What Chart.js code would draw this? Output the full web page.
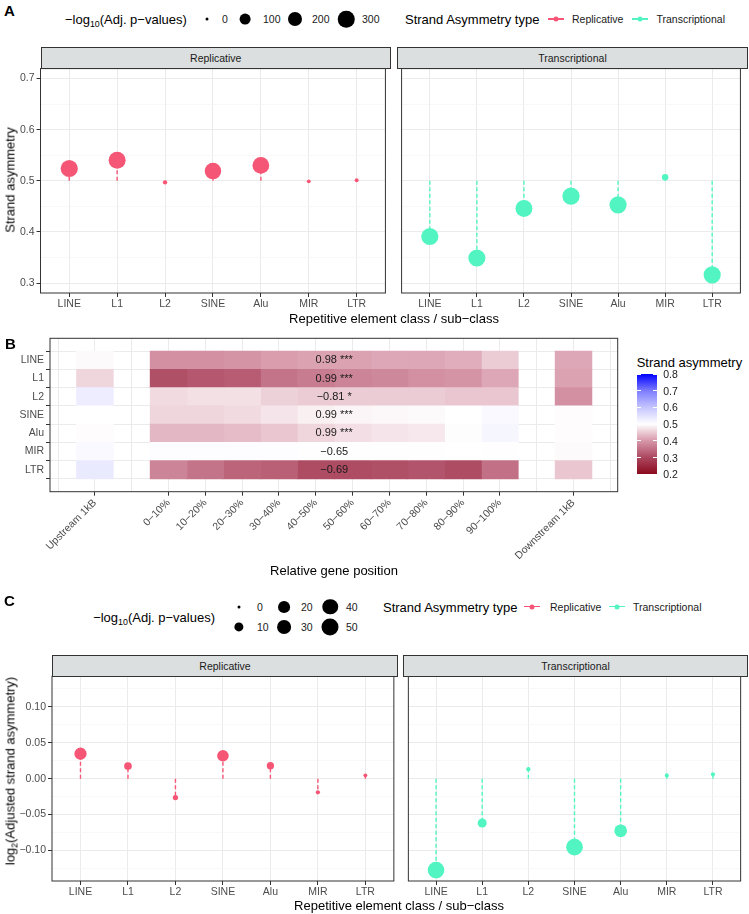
<!DOCTYPE html>
<html>
<head>
<meta charset="utf-8">
<script src="https://cdn.jsdelivr.net/npm/chart.js@4.4.1/dist/chart.umd.min.js"></script>
<style>
  body { margin: 0; background: #fff; }
  #page { position: relative; width: 749px; height: 914px; overflow: hidden;
          font-family: "Liberation Sans", Arial, sans-serif; color: #000; }
  #page canvas { position: absolute; }
  .txt { position: absolute; white-space: nowrap; line-height: 1; }
  .strip { position: absolute; box-sizing: border-box; background: #dcdfdf; border: 1px solid #333;
           font-size: 10.5px; color: #1a1a1a; display: flex; align-items: center; justify-content: center; }
  .dot { position: absolute; border-radius: 50%; transform: translate(-50%, -50%); }
  .sub { font-size: 0.68em; position: relative; top: 0.35em; }
</style>
</head>
<body>
<div id="page"></div>
<script>
// ---------- data ----------
const repeatClasses = ['LINE', 'L1', 'L2', 'SINE', 'Alu', 'MIR', 'LTR'];

// panel A: strand asymmetry and -log10(adj. p)
const asymReplicative = [0.524, 0.540, 0.497, 0.519, 0.530, 0.499, 0.501];
const asymTranscriptional = [0.391, 0.349, 0.446, 0.470, 0.453, 0.507, 0.316];
const logpReplicativeA = [330, 320, 3, 300, 310, 1, 1.5];
const logpTranscriptionalA = [330, 330, 320, 330, 330, 20, 330];

// panel C: log2 adjusted strand asymmetry and -log10(adj. p)
const log2Replicative = [0.0347, 0.0175, -0.0264, 0.0319, 0.0180, -0.0190, 0.0046];
const log2Transcriptional = [-0.1274, -0.0617, 0.0133, -0.0954, -0.0727, 0.0046, 0.0060];
const logpReplicativeC = [22, 5.6, 1.4, 19, 4.7, 0.4, 0.2];
const logpTranscriptionalC = [48, 9.2, 0.4, 48, 24, 0.3, 0.3];

// panel B: heatmap by relative gene position
const positionLabels = ['Upstream 1kB', '0\u221210%', '10\u221220%', '20\u221230%', '30\u221240%', '40\u221250%',
  '50\u221260%', '60\u221270%', '70\u221280%', '80\u221290%', '90\u2212100%', 'Downstream 1kB'];
const positionX = [0, 2, 3, 4, 5, 6, 7, 8, 9, 10, 11, 13];
const heatLINE = [0.495, 0.39, 0.39, 0.395, 0.405, 0.41, 0.41, 0.415, 0.415, 0.42, 0.45, 0.415];
const heatL1   = [0.46, 0.31, 0.32, 0.325, 0.355, 0.365, 0.375, 0.38, 0.39, 0.395, 0.415, 0.41];
const heatL2   = [0.53, 0.465, 0.47, 0.47, 0.455, 0.45, 0.45, 0.45, 0.45, 0.445, 0.445, 0.39];
const heatSINE = [0.5, 0.46, 0.46, 0.465, 0.475, 0.485, 0.49, 0.492, 0.495, 0.5, 0.51, 0.497];
const heatAlu  = [0.497, 0.43, 0.43, 0.435, 0.445, 0.46, 0.468, 0.475, 0.478, 0.498, 0.515, 0.497];
const heatMIR  = [0.51, 0.504, 0.504, 0.503, 0.503, 0.502, 0.502, 0.501, 0.501, 0.5, 0.501, 0.495];
const heatLTR  = [0.535, 0.375, 0.355, 0.335, 0.33, 0.305, 0.305, 0.31, 0.315, 0.305, 0.35, 0.445];
const corrLabels = ['0.98 ***', '0.99 ***', '\u22120.81 *', '0.99 ***', '0.99 ***', '\u22120.65', '\u22120.69'];
const corrLabelX = 6.5;

// axis breaks
const yMajorA = [0.3, 0.4, 0.5, 0.6, 0.7];
const yMinorA = [0.35, 0.45, 0.55, 0.65];
const yMajorC = [-0.1, -0.05, 0, 0.05, 0.1];
const yMinorC = [-0.125, -0.075, -0.025, 0.025, 0.075, 0.125];
const legendPA = [0, 100, 200, 300];
const legendPC = [0, 10, 20, 30, 40, 50];
const colorbarBreaks = [0.2, 0.3, 0.4, 0.5, 0.6, 0.7, 0.8];

const heatRows = [heatLINE, heatL1, heatL2, heatSINE, heatAlu, heatMIR, heatLTR];

// ---------- styles ----------
const colReplicative = '#f65676';
const colTranscriptional = '#52f5c2';
const fillStops = [[0.2, [139, 10, 30]], [0.3, [172, 72, 96]], [0.4, [215, 152, 170]], [0.5, [255, 255, 255]],
  [0.6, [196, 196, 255]], [0.7, [125, 125, 255]], [0.8, [0, 0, 255]]];
const sizeA = v => 3 + 7.8 * Math.sqrt(v / 100);   // point diameter in px
const sizeC = v => 3 + 14 * Math.sqrt(v / 50);

function asymColor(v) {
  for (let i = 0; i < fillStops.length - 1; i++) {
    const [v0, c0] = fillStops[i], [v1, c1] = fillStops[i + 1];
    if (v <= v1 || i === fillStops.length - 2) {
      const t = Math.max(0, Math.min(1, (v - v0) / (v1 - v0)));
      const c = c0.map((x, k) => Math.round(x + (c1[k] - x) * t));
      return `rgb(${c[0]},${c[1]},${c[2]})`;
    }
  }
}

Chart.defaults.font.family = '"Liberation Sans", Arial, sans-serif';
Chart.defaults.color = '#4d4d4d';

const page = document.getElementById('page');

function makeCanvas(box) {
  const c = document.createElement('canvas');
  c.width = box.w; c.height = box.h;
  Object.assign(c.style, { left: box.x + 'px', top: box.y + 'px', width: box.w + 'px', height: box.h + 'px' });
  page.appendChild(c);
  return c;
}

function addText(html, x, y, size, align, opts = {}) {
  const d = document.createElement('div');
  d.className = 'txt';
  d.innerHTML = html;
  d.style.left = x + 'px';
  d.style.top = y + 'px';
  d.style.fontSize = size + 'px';
  const tx = align === 'c' ? '-50%' : align === 'r' ? '-100%' : '0';
  d.style.transform = opts.rotate ? `translate(-50%, -50%) rotate(${opts.rotate}deg)` : `translate(${tx}, -50%)`;
  if (opts.bold) d.style.fontWeight = 'bold';
  d.style.color = opts.color || '#000';
  page.appendChild(d);
}

function addDot(x, y, dia, color) {
  const d = document.createElement('div');
  d.className = 'dot';
  Object.assign(d.style, { left: x + 'px', top: y + 'px', width: dia + 'px', height: dia + 'px', background: color });
  page.appendChild(d);
}

function addBox(x, y, w, h, color) {
  const d = document.createElement('div');
  Object.assign(d.style, { position: 'absolute', left: x + 'px', top: y + 'px', width: w + 'px', height: h + 'px', background: color });
  page.appendChild(d);
  return d;
}

function addStrip(text, l, t, r, b) {
  const d = document.createElement('div');
  d.className = 'strip';
  Object.assign(d.style, { left: l + 'px', top: t + 'px', width: (r - l + 1) + 'px', height: (b - t + 1) + 'px' });
  d.textContent = text;
  page.appendChild(d);
}

function addKey(x, y, color) {
  addBox(x - 8, y - 0.7, 16, 1.4, color);
  addDot(x, y, 5, color);
}

const panelBorder = {
  id: 'panelBorder',
  afterDraw(chart) {
    const { ctx, chartArea: a } = chart;
    ctx.save();
    ctx.strokeStyle = '#333';
    ctx.lineWidth = 1;
    ctx.strokeRect(a.left, a.top, a.right - a.left, a.bottom - a.top);
    ctx.restore();
  }
};

const near = (list, v) => list.some(m => Math.abs(m - v) < 1e-9);

function lollipop(box, area, cfg) {
  const segData = [];
  cfg.values.forEach((v, i) => segData.push({ x: i, y: cfg.base }, { x: i, y: v }, { x: i, y: null }));
  return new Chart(makeCanvas(box), {
    type: 'scatter',
    data: {
      datasets: [{
        type: 'scatter',
        data: cfg.values.map((v, i) => ({ x: i, y: v })),
        pointRadius: cfg.logp.map(p => cfg.size(p) / 2),
        backgroundColor: cfg.color,
        borderWidth: 0,
        order: 0
      }, {
        type: 'line',
        data: segData,
        borderColor: cfg.color,
        borderWidth: 1.4,
        borderDash: [4, 2.5],
        pointRadius: 0,
        spanGaps: false,
        fill: false,
        order: 1
      }]
    },
    options: {
      responsive: false, animation: false, events: [], devicePixelRatio: 1,
      layout: { padding: { top: area.t - box.y, right: box.x + box.w - area.r, left: 0, bottom: 0 } },
      plugins: { legend: { display: false }, tooltip: { enabled: false } },
      scales: {
        x: {
          type: 'linear', min: -0.6, max: repeatClasses.length - 0.4,
          afterBuildTicks: s => { s.ticks = repeatClasses.map((c, i) => ({ value: i })); },
          afterFit: s => { s.height = box.y + box.h - area.b; },
          ticks: { callback: v => repeatClasses[v], autoSkip: false, maxRotation: 0, minRotation: 0,
                   padding: 1, color: '#4d4d4d', font: { size: 10.5 } },
          grid: { color: '#ebebeb', lineWidth: 1, tickLength: 4, tickColor: '#333' },
          border: { display: false }
        },
        y: {
          type: 'linear', min: cfg.yMin, max: cfg.yMax,
          afterBuildTicks: s => {
            s.ticks = cfg.yMajor.concat(cfg.yMinor).sort((a, b) => a - b).map(v => ({ value: v }));
          },
          afterFit: s => { s.width = area.l - box.x; },
          ticks: { display: cfg.showY, autoSkip: false, padding: 2, color: '#4d4d4d', font: { size: 10.5 },
                   callback: v => near(cfg.yMajor, v) ? cfg.fmt(v) : '' },
          grid: {
            color: c => (c.tick && near(cfg.yMajor, c.tick.value)) ? '#ebebeb' : '#f3f3f3',
            lineWidth: c => (c.tick && near(cfg.yMajor, c.tick.value)) ? 1 : 0.6,
            drawTicks: cfg.showY, tickLength: 4,
            tickColor: c => (c.tick && near(cfg.yMajor, c.tick.value)) ? '#333' : 'rgba(0,0,0,0)'
          },
          border: { display: false }
        }
      }
    },
    plugins: [panelBorder]
  });
}

const fmtA = v => v.toFixed(1);
const fmtC = v => (v < -1e-9 ? '\u2212' : '') + Math.abs(v).toFixed(2);

// ---------- panel A ----------
const aTop = 68.3, aBot = 293, aMin = 0.2806, aMax = 0.7194;
lollipop({ x: 0, y: 60, w: 394, h: 255 }, { l: 40.5, t: aTop, r: 390, b: aBot }, {
  values: asymReplicative, logp: logpReplicativeA, size: sizeA, color: colReplicative, base: 0.5,
  yMin: aMin, yMax: aMax, yMajor: yMajorA, yMinor: yMinorA, fmt: fmtA, showY: true
});
lollipop({ x: 393, y: 60, w: 356, h: 255 }, { l: 397.3, t: aTop, r: 746.7, b: aBot }, {
  values: asymTranscriptional, logp: logpTranscriptionalA, size: sizeA, color: colTranscriptional, base: 0.5,
  yMin: aMin, yMax: aMax, yMajor: yMajorA, yMinor: yMinorA, fmt: fmtA, showY: false
});
addStrip('Replicative', 40.5, 46.7, 390, aTop);
addStrip('Transcriptional', 397.3, 46.7, 746.7, aTop);
addText('A', 4, 10, 15, 'l', { bold: true });
addText('\u2212log<span class="sub">10</span>(Adj. p\u2212values)', 65, 19, 13, 'l');
const legAX = [207, 245, 295, 346], legALabX = [222, 263, 312, 362];
legendPA.forEach((p, i) => { addDot(legAX[i], 19, sizeA(p), '#000'); addText(String(p), legALabX[i], 19, 10.5, 'l', { color: '#1a1a1a' }); });
addText('Strand Asymmetry type', 405, 19, 13, 'l');
addKey(556, 19, colReplicative);
addText('Replicative', 572, 19, 10.5, 'l', { color: '#1a1a1a' });
addKey(640, 19, colTranscriptional);
addText('Transcriptional', 656.5, 19, 10.5, 'l', { color: '#1a1a1a' });
addText('Strand asymmetry', 10, 180, 13, 'c', { rotate: -90 });
addText('Repetitive element class / sub\u2212class', 394, 318, 13, 'c');

// ---------- panel B ----------
const hBox = { x: 0, y: 330, w: 636, h: 232 };
const hArea = { l: 50, t: 337.3, r: 617.7, b: 491.7 };
const cellText = {
  id: 'cellText',
  afterDatasetsDraw(chart) {
    const { ctx, scales: { x, y } } = chart;
    ctx.save();
    ctx.font = '11px "Liberation Sans", Arial, sans-serif';
    ctx.fillStyle = '#1a1a1a';
    ctx.textAlign = 'center';
    ctx.textBaseline = 'middle';
    corrLabels.forEach((t, i) => ctx.fillText(t, x.getPixelForValue(corrLabelX), y.getPixelForValue(i)));
    ctx.restore();
  }
};
const labelAt = v => { const k = positionX.indexOf(v); return k >= 0 ? positionLabels[k] : ''; };
new Chart(makeCanvas(hBox), {
  type: 'bar',
  data: {
    datasets: positionX.map((px, j) => ({
      data: repeatClasses.map((c, i) => ({ x: [px - 0.5, px + 0.5], y: i })),
      backgroundColor: heatRows.map(row => asymColor(row[j])),
      borderWidth: 0, barPercentage: 1, categoryPercentage: 1, grouped: false
    }))
  },
  options: {
    indexAxis: 'y', responsive: false, animation: false, events: [], devicePixelRatio: 1,
    layout: { padding: { top: hArea.t - hBox.y, right: hBox.x + hBox.w - hArea.r, left: 0, bottom: 0 } },
    plugins: { legend: { display: false }, tooltip: { enabled: false } },
    scales: {
      x: {
        type: 'linear', min: -1.22, max: 14.2,
        afterBuildTicks: s => { const t = []; for (let v = -1; v <= 14; v++) t.push({ value: v }); s.ticks = t; },
        afterFit: s => { s.height = hBox.y + hBox.h - hArea.b; },
        ticks: { callback: v => labelAt(v), autoSkip: false, minRotation: 45, maxRotation: 45,
                 padding: 1, color: '#4d4d4d', font: { size: 10.5 } },
        grid: { color: '#ebebeb', tickLength: 4,
                tickColor: c => (c.tick && positionX.includes(c.tick.value)) ? '#333' : 'rgba(0,0,0,0)' },
        border: { display: false }
      },
      y: {
        type: 'linear', min: -0.6, max: repeatClasses.length - 0.4, reverse: true,
        afterBuildTicks: s => { s.ticks = repeatClasses.map((c, i) => ({ value: i })); },
        afterFit: s => { s.width = hArea.l - hBox.x; },
        ticks: { callback: v => repeatClasses[v], autoSkip: false, padding: 2, color: '#4d4d4d', font: { size: 10.5 } },
        grid: { color: '#ebebeb', tickLength: 4, tickColor: '#333' },
        border: { display: false }
      }
    }
  },
  plugins: [cellText, panelBorder]
});
addText('B', 5, 343, 15, 'l', { bold: true });
addText('Relative gene position', 334, 570, 13, 'c');

// colour bar legend
const cbX = 636.7, cbTop = 374, cbBot = 474.3, cbW = 20;
addText('Strand asymmetry', cbX, 362, 13, 'l');
const grad = fillStops.map(([v, c]) => `rgb(${c[0]},${c[1]},${c[2]}) ${((v - 0.2) / 0.6 * 100).toFixed(2)}%`).join(', ');
addBox(cbX, cbTop, cbW, cbBot - cbTop, '#fff').style.background = `linear-gradient(to top, ${grad})`;
colorbarBreaks.forEach(v => {
  const y = cbBot - (v - 0.2) / 0.6 * (cbBot - cbTop);
  addBox(cbX, y - 0.5, 4, 1, '#fff');
  addBox(cbX + cbW - 4, y - 0.5, 4, 1, '#fff');
  addText(v.toFixed(1), cbX + cbW + 6.5, y, 10.5, 'l', { color: '#1a1a1a' });
});

// ---------- panel C ----------
const cTop = 675.7, cBot = 881, cLim = 0.1426;
lollipop({ x: 0, y: 668, w: 400, h: 232 }, { l: 52, t: cTop, r: 397, b: cBot }, {
  values: log2Replicative, logp: logpReplicativeC, size: sizeC, color: colReplicative, base: 0,
  yMin: -cLim, yMax: cLim, yMajor: yMajorC, yMinor: yMinorC, fmt: fmtC, showY: true
});
lollipop({ x: 400, y: 668, w: 349, h: 232 }, { l: 403.3, t: cTop, r: 746.7, b: cBot }, {
  values: log2Transcriptional, logp: logpTranscriptionalC, size: sizeC, color: colTranscriptional, base: 0,
  yMin: -cLim, yMax: cLim, yMajor: yMajorC, yMinor: yMinorC, fmt: fmtC, showY: false
});
addStrip('Replicative', 52, 655, 397, cTop);
addStrip('Transcriptional', 403.3, 655, 746.7, cTop);
addText('C', 4, 600, 15, 'l', { bold: true });
addText('\u2212log<span class="sub">10</span>(Adj. p\u2212values)', 215, 617, 13, 'r');
const legCX = [239, 239, 284, 284, 330, 330], legCY = [606.7, 626.7, 606.7, 626.7, 606.7, 626.7];
const legCLabX = [257, 257, 301, 301, 346, 346];
legendPC.forEach((p, i) => { addDot(legCX[i], legCY[i], sizeC(p), '#000'); addText(String(p), legCLabX[i], legCY[i], 10.5, 'l', { color: '#1a1a1a' }); });
addText('Strand Asymmetry type', 383, 606.7, 13, 'l');
addKey(532, 606.7, colReplicative);
addText('Replicative', 550, 606.7, 10.5, 'l', { color: '#1a1a1a' });
addKey(617, 606.7, colTranscriptional);
addText('Transcriptional', 633, 606.7, 10.5, 'l', { color: '#1a1a1a' });
addText('log<span class="sub">2</span>(Adjusted strand asymmetry)', 10, 771, 13, 'c', { rotate: -90 });
addText('Repetitive element class / sub\u2212class', 399, 905, 13, 'c');
</script>
</body>
</html>
